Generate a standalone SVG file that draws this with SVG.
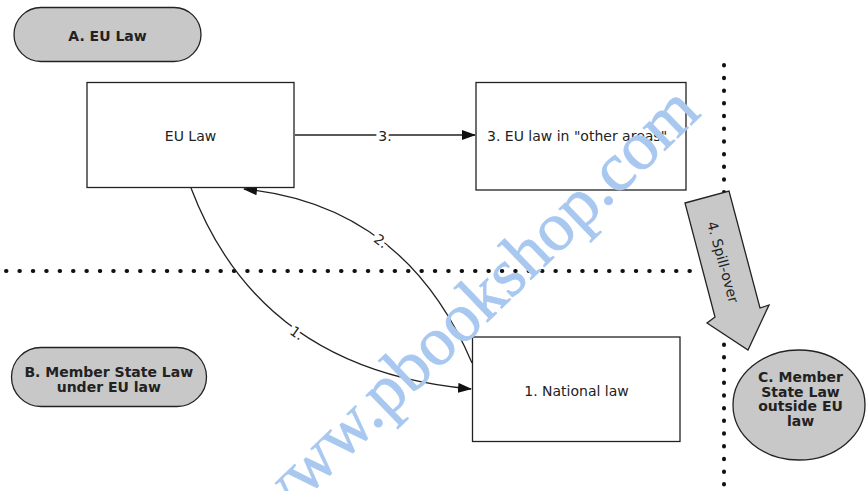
<svg xmlns="http://www.w3.org/2000/svg" width="866" height="491" viewBox="0 0 866 491">
  <style>
    .box { fill: #ffffff; stroke: #222222; stroke-width: 1.3; }
    .pill { fill: #c8c8c8; stroke: #222222; stroke-width: 1.3; }
    .t { font-family: "DejaVu Sans", Verdana, sans-serif; font-size: 14px; fill: #222222; }
    .tb { font-family: "DejaVu Sans", Verdana, sans-serif; font-size: 14px; font-weight: bold; fill: #222222; text-anchor: middle; }
    .conn { fill: none; stroke: #222222; stroke-width: 1.3; }
    .lbl { font-family: "DejaVu Sans", Verdana, sans-serif; font-size: 14px; fill: #222222; text-anchor: middle; stroke: #ffffff; stroke-width: 6; paint-order: stroke; }
    .dots { fill: none; stroke: #111111; stroke-width: 4; stroke-linecap: round; }
    .wm { font-family: "Liberation Serif", "Times New Roman", serif; font-size: 69px; fill: #a9c8f0; stroke: #a9c8f0; stroke-width: 0.8; }
  </style>
  <defs>
    <marker id="ah" markerUnits="userSpaceOnUse" markerWidth="14" markerHeight="10" refX="13" refY="5" orient="auto">
      <path d="M0,0 L14,5 L0,10 Z" fill="#111111"/>
    </marker>
  </defs>

  <g id="separators">
    <line class="dots" x1="6" y1="271" x2="699" y2="271" stroke-dasharray="0.5 12.9"/>
    <line class="dots" x1="724" y1="65" x2="724" y2="491" stroke-dasharray="0.5 12.2"/>
  </g>

  <g id="connectors">
    <path class="conn" d="M295,135 L475,135" marker-end="url(#ah)"/>
    <text class="lbl" x="385" y="140.5">3.</text>
    <path class="conn" d="M191,188 Q260,370 471,389" marker-end="url(#ah)"/>
    <text class="lbl" x="297" y="338" transform="rotate(35.6 297 333)">1.</text>
    <path class="conn" d="M472,363 Q405,205 244,189" marker-end="url(#ah)"/>
    <text class="lbl" x="381" y="246" transform="rotate(37 381 241)">2.</text>
  </g>

  <g id="nodeA">
    <rect class="pill" x="14" y="7.5" width="187" height="54" rx="27" ry="27"/>
    <text class="tb" x="107.5" y="40.5">A. EU Law</text>
  </g>

  <g id="nodeEULaw">
    <rect class="box" x="87" y="82.5" width="207" height="105"/>
    <text class="t" x="190.5" y="140.5" text-anchor="middle">EU Law</text>
  </g>

  <g id="nodeOther">
    <rect class="box" x="476" y="82.5" width="210" height="107.5"/>
    <text class="t" x="487" y="140.5">3. EU law in "other areas"</text>
  </g>

  <g id="nodeNational">
    <rect class="box" x="472.5" y="337" width="207.5" height="104.5"/>
    <text class="t" x="576.5" y="395.5" text-anchor="middle">1. National law</text>
  </g>

  <g id="nodeB">
    <rect class="pill" x="11.5" y="347.5" width="195" height="59" rx="29.5" ry="29.5"/>
    <text class="tb" x="108.8" y="376.5">B. Member State Law</text>
    <text class="tb" x="108.8" y="391.5">under EU law</text>
  </g>

  <g id="nodeC">
    <ellipse class="pill" cx="799" cy="405" rx="66" ry="55"/>
    <text class="tb" x="800.5" y="382" font-size="15">C. Member</text>
    <text class="tb" x="800.5" y="396.5" font-size="15">State Law</text>
    <text class="tb" x="800.5" y="411" font-size="15">outside EU</text>
    <text class="tb" x="800.5" y="425.5" font-size="15">law</text>
  </g>

  <g id="spillover">
    <polygon class="pill" points="685,203 729,191 760,308 769,305 748,350 707,323 715,317"/>
    <text class="t" x="723" y="267" text-anchor="middle" transform="rotate(74.5 723 262)">4. Spill-over</text>
  </g>

  <g id="watermark">
    <text class="wm" x="270" y="532" transform="rotate(-44 270 532)">www.pbookshop.com</text>
  </g>
</svg>
